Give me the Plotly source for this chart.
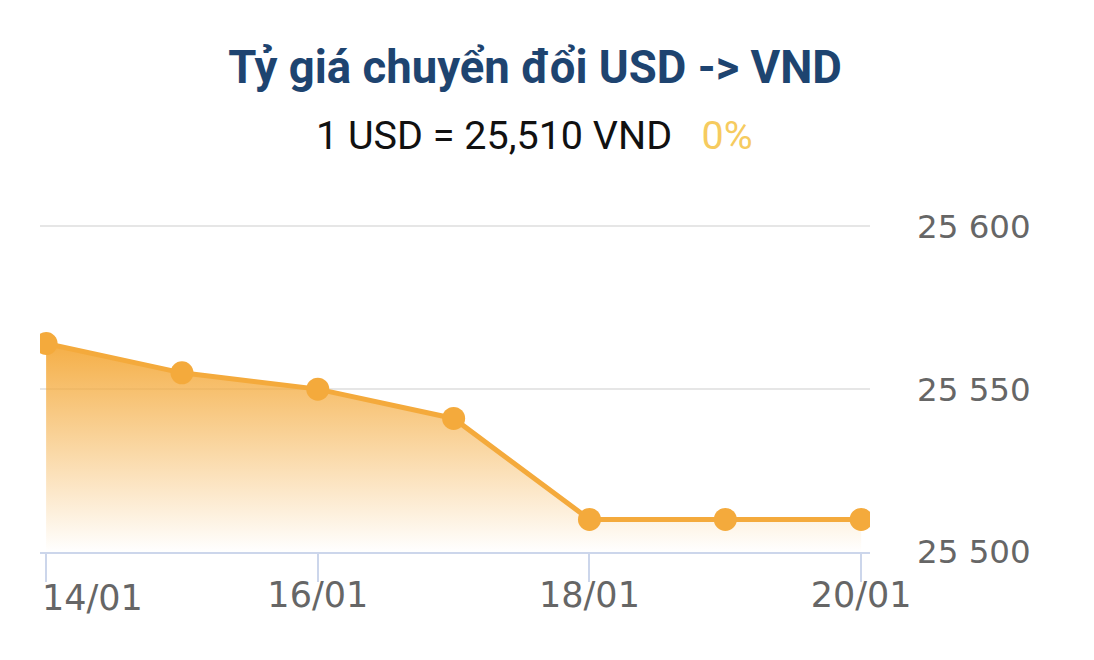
import plotly.graph_objects as go

categories = ["14/01", "15/01", "16/01", "17/01", "18/01", "19/01", "20/01"]
rates = [25564, 25555, 25550, 25541, 25510, 25510, 25510]
tick_labels = ["14/01", "16/01", "18/01", "20/01"]
y_ticks = [25500, 25550, 25600]
title_text = "Tỷ giá chuyển đổi USD -> VND"
current_rate = "1 USD = 25,510 VND"
change_text = "0%"

ORANGE = "#f4aa3c"
TICKFONT = dict(family="DejaVu Sans", size=35, color="#666666")

fig = go.Figure()
fig.add_trace(go.Scatter(
    x=categories, y=rates, mode="lines+markers",
    line=dict(color=ORANGE, width=5),
    marker=dict(color=ORANGE, size=23),
    fill="tozeroy",
    fillgradient=dict(type="vertical", start=25500, stop=rates[0],
                      colorscale=[[0, "rgba(244,170,60,0.0)"], [1, "rgba(244,170,60,0.95)"]]),
    hoverinfo="x+y", showlegend=False,
))

W, H = 1094, 660
L, R, T, B = 40, 224, 223, 108
ph = H - T - B

# first x label is left-aligned at its tick (kept inside the chart)
ticktext = [""] + tick_labels[1:]

fig.update_layout(
    width=W, height=H,
    margin=dict(l=L, r=R, t=T, b=B, pad=0, autoexpand=False),
    paper_bgcolor="white", plot_bgcolor="white",
    separators=". ",
    title=dict(text="<b>" + title_text + "</b>", xref="container", yref="container",
               x=535 / W, y=1 - 67 / H, xanchor="center", yanchor="middle",
               font=dict(family="Roboto", size=45.5, color="#1e4470")),
    annotations=[
        dict(text=current_rate + "\u00a0\u00a0\u00a0<span style='color:#f6cb5f'>" + change_text + "</span>",
             xref="paper", yref="paper", x=(534 - L) / (W - L - R), y=(H - B - 135) / ph,
             xanchor="center", yanchor="middle", showarrow=False,
             font=dict(family="Roboto", size=39.5, color="#111111")),
        dict(text=tick_labels[0], xref="x", yref="paper", x=tick_labels[0], y=0,
             xanchor="left", yanchor="top", xshift=-6, yshift=-24, showarrow=False,
             font=TICKFONT),
    ],
    xaxis=dict(
        type="category", categoryorder="array", categoryarray=categories,
        range=[-0.045, 6.065], automargin=False,
        tickmode="array", tickvals=tick_labels, ticktext=ticktext,
        ticks="outside", ticklen=28, tickwidth=2, tickcolor="#ccd6eb",
        showline=True, linecolor="#ccd6eb", linewidth=2,
        showgrid=False, zeroline=False,
        ticklabelstandoff=-17,
        tickfont=TICKFONT,
    ),
    yaxis=dict(
        side="right", range=[25500, 25601], automargin=False,
        tickmode="array", tickvals=y_ticks, tickformat=",d",
        showgrid=True, gridcolor="#e6e6e6", gridwidth=2,
        zeroline=False, showline=False, ticks="",
        ticklabelstandoff=46,
        tickfont=dict(family="DejaVu Sans", size=32.5, color="#666666"),
    ),
)

fig.write_html("out.html", config={"displayModeBar": False},
               post_script="document.body.style.margin='0';")
